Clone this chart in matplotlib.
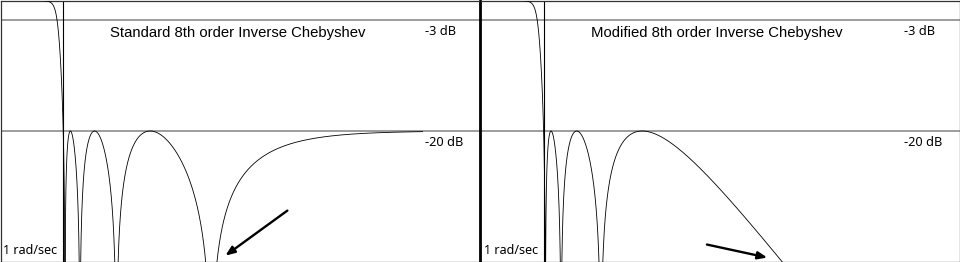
import numpy as np
import matplotlib.pyplot as plt
from numpy.polynomial import chebyshev as C

# filter spec
order = 8              # 8th order
stop_db = 20.0         # stopband ripple level (dB)
w_stop = 1.0           # stopband edge, rad/sec
curve_end = 53.0       # curve drawn up to this frequency

titles = ['Standard 8th order Inverse Chebyshev',
          'Modified 8th order Inverse Chebyshev']
modified = [False, True]
ref_levels = [-3, -20]
ref_labels = ['-3 dB', '-20 dB']
ref_label_y = [-4.75, -21.8]
edge_label = '1 rad/sec'
x_range = [0.5, 100]
y_range = [-40, 0]
# arrows: (tail, head) in (rad/sec, dB)
arrows = [((11.9, -32.2), (6.0, -39.1)),
          ((6.1, -37.4), (11.9, -39.4))]


def inv_cheb_db(w, mod):
    eps = 1 / np.sqrt(10 ** (stop_db / 10) - 1)
    x = w_stop / w
    if mod:
        # move the highest zero pair to infinity
        x0 = np.cos((order - 1) * np.pi / (2 * order))
        x = np.sqrt(x0 ** 2 + (1 - x0 ** 2) * x ** 2)
    g = eps * C.chebval(x, [0] * order + [1])
    h2 = g ** 2 / (1 + g ** 2)
    return 10 * np.log10(np.maximum(h2, 1e-12))


fig = plt.figure(figsize=(9.6, 2.62), dpi=100)
W, H = 960.0, 262.0
boxes = [(0.5, 480.0), (481.0, 959.5)]

w = np.geomspace(x_range[0], curve_end, 40000)

for i in range(2):
    x0, x1 = boxes[i]
    ax = fig.add_axes([x0 / W, 0.5 / H, (x1 - x0) / W, 261.0 / H])
    ax.set_xscale('log')
    ax.set_xlim(x_range)
    ax.set_ylim(y_range)
    ax.set_xticks([])
    ax.set_yticks([])
    ax.minorticks_off()
    for s in ax.spines.values():
        s.set_color('#333333')
        s.set_linewidth(0.9)
    if i == 0:
        ax.spines['right'].set_color('black')
        ax.spines['right'].set_linewidth(1.3)
    else:
        ax.spines['left'].set_color('black')
        ax.spines['left'].set_linewidth(1.3)

    for lev in ref_levels:
        ax.axhline(lev, color='#8c8c8c', lw=1.2, zorder=1)
    ax.axvline(w_stop, color='black', lw=0.8, zorder=2)

    ax.plot(w, inv_cheb_db(w, modified[i]), color='black', lw=0.6, zorder=3)

    ax.text(0.229, 0.877, titles[i], transform=ax.transAxes,
            ha='left', va='center', fontsize=10.7, family='Liberation Sans')
    for lab, yl in zip(ref_labels, ref_label_y):
        ax.text(0.885, yl, lab, transform=ax.get_yaxis_transform(),
                ha='left', va='center', fontsize=9.2, family='Noto Sans')
    ax.text(0.006, 0.042, edge_label, transform=ax.transAxes,
            ha='left', va='center', fontsize=9.0, family='Noto Sans')

    tail, head = arrows[i]
    ax.annotate('', xy=head, xytext=tail,
                arrowprops=dict(arrowstyle='-|>,head_length=0.55,head_width=0.22',
                                color='black', lw=1.7, shrinkA=0, shrinkB=0))

fig.savefig('out.png', dpi=100)
